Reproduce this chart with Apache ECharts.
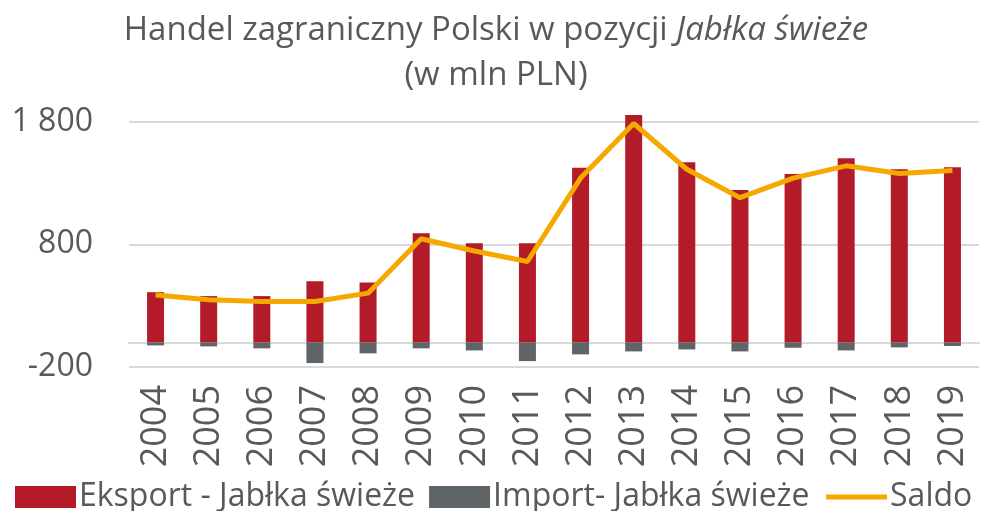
<!DOCTYPE html>
<html>
<head>
<meta charset="utf-8">
<script src="https://cdn.jsdelivr.net/npm/echarts@6/dist/echarts.min.js"></script>
<style>
  html, body { margin: 0; padding: 0; background: #fff; }
  #chart { width: 992px; height: 511px; }
</style>
</head>
<body>
<div id="chart"></div>
<script>
// dane z wykresu (mln PLN)
const years = ['2004', '2005', '2006', '2007', '2008', '2009', '2010', '2011',
               '2012', '2013', '2014', '2015', '2016', '2017', '2018', '2019'];
const eksport = [410, 378, 378, 500, 488, 890, 808, 808, 1425, 1855, 1469, 1243, 1374, 1502, 1412, 1428];
const importy = [-24, -32, -48, -168, -89, -48, -65, -152, -97, -73, -57, -73, -43, -65, -40, -29];
const saldo = [387, 348, 333, 334, 402, 846, 746, 660, 1340, 1785, 1412, 1180, 1340, 1440, 1378, 1402];
const yTicks = [-200, 800, 1800];

const FONT = '"Open Sans", sans-serif';
const GREY = '#595959';

const chart = echarts.init(document.getElementById('chart'));

chart.setOption({
  animation: false,
  title: {
    left: 'center',
    top: 3,
    text: '{a|Handel zagraniczny Polski w pozycji }{b|Jabłka świeże}\n{a|(w mln PLN)}',
    textStyle: {
      fontWeight: 'normal',
      rich: {
        a: { fontFamily: FONT, fontSize: 33, fontWeight: 'normal', color: GREY, lineHeight: 45 },
        b: { fontFamily: FONT, fontSize: 33, fontWeight: 'normal', color: GREY, fontStyle: 'italic', lineHeight: 45 }
      }
    }
  },
  legend: {
    bottom: -2,
    left: 15,
    width: 1000,
    padding: 0,
    itemWidth: 61,
    itemHeight: 22,
    itemGap: 14,
    textStyle: { fontFamily: FONT, fontSize: 32, color: GREY, padding: [0, 0, 0, -2] },
    data: [
      { name: 'Eksport - Jabłka świeże', icon: 'rect' },
      { name: 'Import- Jabłka świeże', icon: 'rect' },
      { name: 'Saldo', itemStyle: { opacity: 0 }, lineStyle: { width: 5, color: '#f5a800' } }
    ]
  },
  grid: { left: 129, right: 13, top: 109.4, height: 257.6 },
  xAxis: {
    type: 'category',
    data: years,
    axisLine: { onZero: true, lineStyle: { color: '#d9d9d9', width: 2 } },
    axisTick: { show: false },
    axisLabel: {
      rotate: 90,
      interval: 0,
      margin: 18,
      fontFamily: FONT,
      fontSize: 36,
      color: GREY
    }
  },
  yAxis: {
    type: 'value',
    min: yTicks[0],
    max: 1900,
    interval: 1000,
    axisLine: { show: false },
    axisTick: { show: false },
    splitLine: { showMaxLine: false, lineStyle: { color: '#d9d9d9', width: 2 } },
    axisLabel: {
      showMaxLabel: false,
      margin: 36,
      fontFamily: FONT,
      fontSize: 32,
      color: GREY,
      formatter: v => String(v).replace(/\B(?=(\d{3})+(?!\d))/g, ' ')
    }
  },
  series: [
    {
      name: 'Eksport - Jabłka świeże',
      type: 'bar',
      stack: 'handel',
      barWidth: 17,
      itemStyle: { color: '#b31b29' },
      data: eksport
    },
    {
      name: 'Import- Jabłka świeże',
      type: 'bar',
      stack: 'handel',
      barWidth: 17,
      itemStyle: { color: '#5f6566' },
      data: importy
    },
    {
      name: 'Saldo',
      type: 'line',
      symbol: 'none',
      lineStyle: { color: '#f5a800', width: 5 },
      itemStyle: { color: '#f5a800' },
      data: saldo
    }
  ]
});
</script>
</body>
</html>
